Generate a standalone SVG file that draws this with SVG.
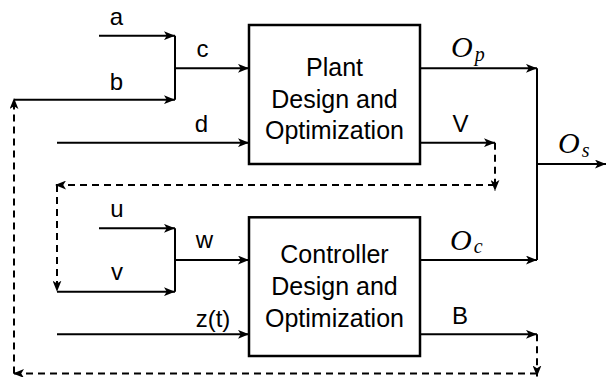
<svg xmlns="http://www.w3.org/2000/svg" width="607" height="377" viewBox="0 0 607 377">
  <style>
    .box { fill: #ffffff; stroke: #000000; stroke-width: 2.5; }
    .wire { fill: none; stroke: #000000; stroke-width: 2; }
    .dash { fill: none; stroke: #000000; stroke-width: 2; stroke-dasharray: 7 5; }
    .btxt { font-family: "Liberation Sans", Arial, sans-serif; font-size: 25px; fill: #000000; text-anchor: middle; }
    .lbl { font-family: "Liberation Sans", Arial, sans-serif; font-size: 24px; fill: #000000; text-anchor: middle; }
    .math { font-family: "Liberation Serif", "Times New Roman", serif; font-style: italic; fill: #000000; }
  </style>
  <defs>
    <marker id="arrow" viewBox="0 0 10 8" refX="10" refY="4" markerWidth="11" markerHeight="9" markerUnits="userSpaceOnUse" orient="auto">
      <path d="M0,0 L10,4 L0,8 L2.5,4 Z" fill="#000000"/>
    </marker>
  </defs>

  <rect width="607" height="377" fill="#ffffff"/>

  <!-- connectors -->
  <g id="connectors">
    <path class="wire" d="M99,35.7 H175" marker-end="url(#arrow)"/>
    <path class="wire" d="M14,99.7 H175" marker-end="url(#arrow)"/>
    <path class="wire" d="M175,35.7 V99.7"/>
    <path class="wire" d="M175,68.3 H249" marker-end="url(#arrow)"/>
    <path class="wire" d="M57,142.7 H249" marker-end="url(#arrow)"/>

    <path class="wire" d="M420,68.3 H537" marker-end="url(#arrow)"/>
    <path class="wire" d="M537,68.3 V260"/>
    <path class="wire" d="M537,164 H606" marker-end="url(#arrow)"/>
    <path class="wire" d="M420,142.7 H495" marker-end="url(#arrow)"/>

    <path class="wire" d="M99,228.3 H175" marker-end="url(#arrow)"/>
    <path class="wire" d="M57,291.7 H175" marker-end="url(#arrow)"/>
    <path class="wire" d="M175,228.3 V291.7"/>
    <path class="wire" d="M175,260 H249" marker-end="url(#arrow)"/>
    <path class="wire" d="M57,334.3 H249" marker-end="url(#arrow)"/>

    <path class="wire" d="M420,260 H537" marker-end="url(#arrow)"/>
    <path class="wire" d="M420,334.3 H537" marker-end="url(#arrow)"/>

    <!-- feedback paths -->
    <path class="dash" d="M495,142.7 V191" marker-end="url(#arrow)"/>
    <path class="dash" d="M495,185 H55" marker-end="url(#arrow)"/>
    <path class="dash" d="M57,185 V291.7" marker-end="url(#arrow)"/>
    <path class="dash" d="M537,334.3 V376.5" marker-end="url(#arrow)"/>
    <path class="dash" d="M537,373.5 H13" marker-end="url(#arrow)"/>
    <path class="dash" d="M14,373.5 V98" marker-end="url(#arrow)"/>
  </g>

  <g id="plant">
    <rect class="box" x="249" y="25" width="171" height="139"/>
    <text class="btxt" x="334.5" y="76">Plant</text>
    <text class="btxt" x="334.5" y="107.5">Design and</text>
    <text class="btxt" x="334.5" y="139">Optimization</text>
  </g>

  <g id="controller">
    <rect class="box" x="249" y="217.3" width="171" height="138.7"/>
    <text class="btxt" x="334.5" y="263">Controller</text>
    <text class="btxt" x="334.5" y="294.5">Design and</text>
    <text class="btxt" x="334.5" y="326.5">Optimization</text>
  </g>

  <!-- signal labels -->
  <g id="labels">
    <text class="lbl" x="116.5" y="25">a</text>
    <text class="lbl" x="202.5" y="57">c</text>
    <text class="lbl" x="116.5" y="90">b</text>
    <text class="lbl" x="201.5" y="131.7">d</text>
    <text class="lbl" x="460.5" y="131.7">V</text>
    <text class="lbl" x="117" y="216.7">u</text>
    <text class="lbl" x="204.5" y="248">w</text>
    <text class="lbl" x="117" y="280">v</text>
    <text class="lbl" x="213" y="326.7">z(t)</text>
    <text class="lbl" x="460" y="324">B</text>

    <text class="math" x="451" y="56.5" font-size="30">O<tspan font-size="20" dx="2" dy="4">p</tspan></text>
    <text class="math" x="450" y="249.5" font-size="30">O<tspan font-size="20" dx="2" dy="3">c</tspan></text>
    <text class="math" x="558" y="152.5" font-size="30">O<tspan font-size="20" dx="2" dy="4">s</tspan></text>
  </g>
</svg>
